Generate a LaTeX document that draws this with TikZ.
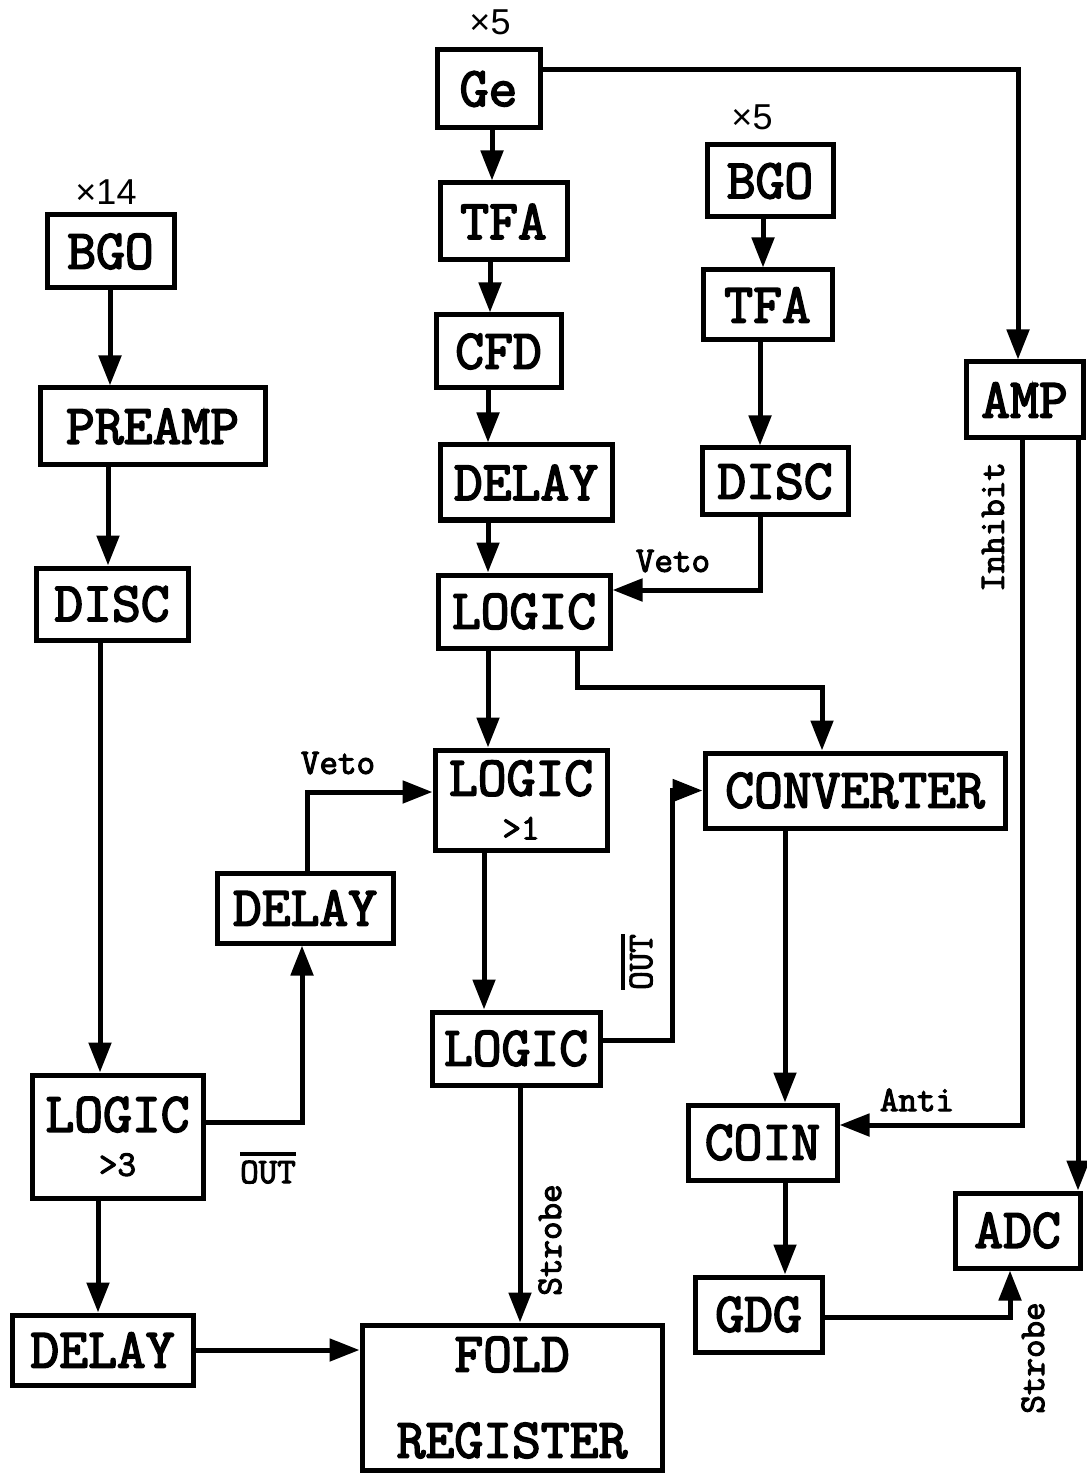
\documentclass[tikz,border=0pt]{standalone}
\usepackage{fontspec}
\newfontfamily\lsans{Liberation Sans}
\newfontfamily\bxfont{Latin Modern Mono}[FakeBold=3]
\newfontfamily\lbfont{Latin Modern Mono}[FakeBold=3]
\usetikzlibrary{arrows.meta}
\newcommand\bigf{\fontsize{28}{34}\selectfont\bxfont}
\newcommand\smf{\fontsize{18}{22}\selectfont\lbfont}
\newcommand\mulf{\fontsize{18}{21}\selectfont\lsans}
\newcommand\ovl[1]{\leavevmode\vbox{\hrule height 1.6pt\kern 2.5pt\hbox{#1}}}
\tikzset{
  box/.style={draw, line width=2.5pt, inner sep=0pt, font=\bigf, align=center},
  arr/.style={line width=2.5pt, -{Triangle[length=15pt,width=11pt]}},
  lbl/.style={inner sep=0pt, font=\smf},
  mul/.style={inner sep=0pt, font=\mulf}
}
\begin{document}
\begin{tikzpicture}[x=0.5pt,y=-0.5pt]
\path[use as bounding box] (0,0) rectangle (1086,1475);
% left column
\node[box, minimum width=63.5pt, minimum height=36.5pt] (bgoL) at (110.5,251.5) {BGO};
\node[box, minimum width=112.5pt, minimum height=38.5pt] (preamp) at (152.5,426.5) {PREAMP};
\node[box, minimum width=76pt, minimum height=36pt] (discL) at (112,604) {DISC};
\node[box, minimum width=85.5pt, minimum height=61.5pt] (logic3) at (117.5,1136.5) {LOGIC\\[-12pt]{\smf >3}};
\node[box, minimum width=90.5pt, minimum height=35pt] (delayL) at (102.5,1350) {DELAY};
\node[box, minimum width=88pt, minimum height=35pt] (delayM) at (305,908) {DELAY};
% middle column
\node[box, minimum width=51.5pt, minimum height=39pt] (ge) at (488.5,89) {Ge};
\node[box, minimum width=63.5pt, minimum height=38.5pt] (tfaM) at (503.5,221.5) {TFA};
\node[box, minimum width=62.5pt, minimum height=36.5pt] (cfd) at (498.5,351.5) {CFD};
\node[box, minimum width=86pt, minimum height=37.5pt] (delayT) at (526,482.5) {DELAY};
\node[box, minimum width=86pt, minimum height=36.5pt] (logic) at (524,611.5) {LOGIC};
\node[box, minimum width=86pt, minimum height=50pt] (logic1) at (521,800) {LOGIC\\[-12pt]{\smf >1}};
\node[box, minimum width=84pt, minimum height=36.5pt] (logicLow) at (516,1048.5) {LOGIC};
\node[box, minimum width=150pt, minimum height=72.5pt] (fold) at (512,1397.5) {FOLD\\[9pt]REGISTER};
% right columns
\node[box, minimum width=63pt, minimum height=36pt] (bgoR) at (770,181) {BGO};
\node[box, minimum width=64.5pt, minimum height=35pt] (tfaR) at (767.5,305) {TFA};
\node[box, minimum width=73pt, minimum height=33.5pt] (discR) at (775,481.5) {DISC};
\node[box, minimum width=58.5pt, minimum height=38pt] (amp) at (1024.5,400) {AMP};
\node[box, minimum width=150pt, minimum height=37.5pt] (converter) at (855,790.5) {CONVERTER};
\node[box, minimum width=74.5pt, minimum height=37.5pt] (coin) at (762.5,1142.5) {COIN};
\node[box, minimum width=63.5pt, minimum height=37.5pt] (gdg) at (758.5,1314.5) {GDG};
\node[box, minimum width=62.5pt, minimum height=37.5pt] (adc) at (1017.5,1230.5) {ADC};
% multiplicity labels
\node[mul] (m14) at (106,192) {×14};
\node[mul] (m5a) at (490,22) {×5};
\node[mul] (m5b) at (752,117) {×5};
% signal labels
\node[lbl] (veto1) at (338,763) {Veto};
\node[lbl] (veto2) at (673,561) {Veto};
\node[lbl] (anti) at (917,1100) {Anti};
\node[lbl, rotate=90] (inhibit) at (993,527) {Inhibit};
\node[lbl, rotate=90] (strobe1) at (550,1240) {Strobe};
\node[lbl, rotate=90] (strobe2) at (1033,1358) {Strobe};
\node[lbl] (out1) at (268,1168) {\ovl{OUT}};
\node[lbl, rotate=90] (out2) at (637,962) {\ovl{OUT}};
% connectors
\draw[arr] (bgoL.south -| 110,0) -- (preamp.north -| 110,0);
\draw[arr] (preamp.south -| 108,0) -- (discL.north -| 108,0);
\draw[arr] (discL.south -| 100,0) -- (logic3.north -| 100,0);
\draw[arr] (logic3.south -| 98,0) -- (delayL.north -| 98,0);
\draw[arr] (logic3.east |- 0,1122) -| (delayM.south -| 302,0);
\draw[arr] (delayM.north -| 307,0) |- (logic1.west |- 0,792);
\draw[arr] (delayL.east |- 0,1350) -- (fold.west |- 0,1350);
\draw[arr] (ge.south -| 492,0) -- (tfaM.north -| 492,0);
\draw[arr] (tfaM.south -| 490,0) -- (cfd.north -| 490,0);
\draw[arr] (cfd.south -| 488,0) -- (delayT.north -| 488,0);
\draw[arr] (delayT.south -| 488,0) -- (logic.north -| 488,0);
\draw[arr] (logic.south -| 488,0) -- (logic1.north -| 488,0);
\draw[arr] (logic1.south -| 484,0) -- (logicLow.north -| 484,0);
\draw[arr] (logicLow.south -| 520,0) -- (fold.north -| 520,0);
\draw[arr] (logic.south -| 577,0) |- (822,687) -- (converter.north -| 822,0);
\draw[arr] (logicLow.east |- 0,1040) -| (converter.west -| 672,0) -- (converter.west);
\draw[arr] (ge.east |- 0,70) -| (amp.north -| 1018,0);
\draw[arr] (bgoR.south -| 763,0) -- (tfaR.north -| 763,0);
\draw[arr] (tfaR.south -| 760,0) -- (discR.north -| 760,0);
\draw[arr] (discR.south -| 760,0) |- (logic.east |- 0,590);
\draw[arr] (converter.south -| 785,0) -- (coin.north -| 785,0);
\draw[arr] (amp.south -| 1022,0) |- (coin.east |- 0,1125);
\draw[arr] (amp.south -| 1078,0) -- (adc.north -| 1078,0);
\draw[arr] (coin.south -| 785,0) -- (gdg.north -| 785,0);
\draw[arr] (gdg.east |- 0,1317) -| (adc.south -| 1010,0);
\end{tikzpicture}
\end{document}
